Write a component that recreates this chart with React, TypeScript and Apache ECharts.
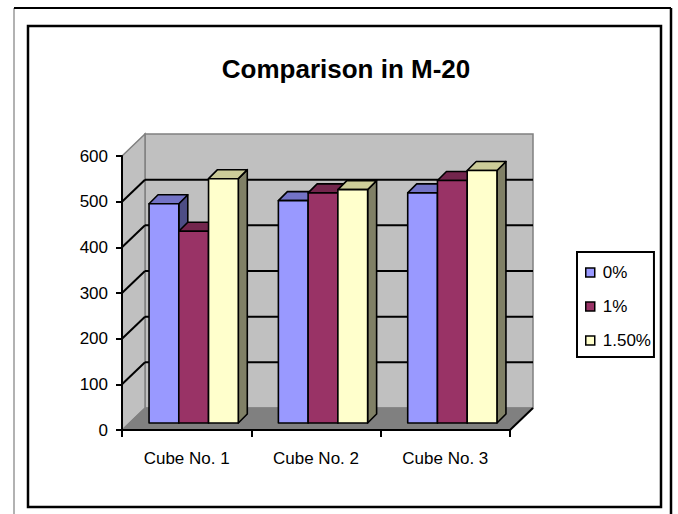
import React, { useEffect, useRef } from "react";
import * as echarts from "echarts";

// Compressive strength of cubes, M-20 mix, by admixture dosage
const CATEGORIES = ["Cube No. 1", "Cube No. 2", "Cube No. 3"];
const SERIES_NAMES = ["0%", "1%", "1.50%"];
const VALUES_0 = [480, 487, 504];
const VALUES_1 = [420, 504, 531];
const VALUES_150 = [535, 511, 553];
const Y_MIN = 0;
const Y_MAX = 600;
const Y_STEP = 100;

const FONT = "'Liberation Sans', Arial, sans-serif";

// 3D look: wall depth and bar depth in pixels
const WALL_DX = 23;
const WALL_DY = -22;
const BAR_SHIFT = 7;
const BAR_DX = 9;
const BAR_DY = -9;
const BAR_FRAC = 0.23;

const FACES = [
  { front: "#9999FF", top: "#7373C6", side: "#4D4D85" },
  { front: "#993366", top: "#73264D", side: "#4D1A33" },
  { front: "#FFFFCC", top: "#CCCC99", side: "#808066" },
];

function wallsRender(params: any, api: any) {
  const cs = params.coordSys;
  const x0 = cs.x;
  const x1 = cs.x + cs.width;
  const yBase = api.coord([0, Y_MIN])[1];
  const yTop = api.coord([0, Y_MAX])[1];
  const children: any[] = [];
  // back wall
  children.push({
    type: "rect",
    shape: { x: x0 + WALL_DX, y: yTop + WALL_DY, width: cs.width, height: yBase - yTop },
    style: { fill: "#C0C0C0", stroke: "#808080", lineWidth: 1.5 },
  });
  // side wall
  children.push({
    type: "polygon",
    shape: {
      points: [
        [x0, yBase],
        [x0, yTop],
        [x0 + WALL_DX, yTop + WALL_DY],
        [x0 + WALL_DX, yBase + WALL_DY],
      ],
    },
    style: { fill: "#C0C0C0", stroke: "#808080", lineWidth: 1.5 },
  });
  // floor
  children.push({
    type: "polygon",
    shape: {
      points: [
        [x0, yBase],
        [x1, yBase],
        [x1 + WALL_DX, yBase + WALL_DY],
        [x0 + WALL_DX, yBase + WALL_DY],
      ],
    },
    style: { fill: "#808080", stroke: "#808080", lineWidth: 1 },
  });
  children.push({
    type: "line",
    shape: { x1: x1, y1: yBase, x2: x1 + WALL_DX, y2: yBase + WALL_DY },
    style: { stroke: "#000", lineWidth: 2 },
  });
  // gridlines on back and side walls
  for (let v = Y_MIN + Y_STEP; v < Y_MAX; v += Y_STEP) {
    const y = api.coord([0, v])[1];
    children.push({
      type: "line",
      shape: { x1: x0 + WALL_DX, y1: y + WALL_DY, x2: x1 + WALL_DX, y2: y + WALL_DY },
      style: { stroke: "#000", lineWidth: 2 },
    });
    children.push({
      type: "line",
      shape: { x1: x0, y1: y, x2: x0 + WALL_DX, y2: y + WALL_DY },
      style: { stroke: "#000", lineWidth: 2 },
    });
  }
  return { type: "group", children };
}

function makeBarRender(slot: number) {
  const faces = FACES[slot];
  return function (params: any, api: any) {
    const ci = api.value(0);
    const v = api.value(1);
    const base = api.coord([ci, Y_MIN]);
    const top = api.coord([ci, v]);
    const band = api.size([1, 0])[0];
    const bw = band * BAR_FRAC;
    const left = base[0] - 1.5 * bw + slot * bw + BAR_SHIFT;
    const yb = base[1] - BAR_SHIFT;
    const yt = top[1] - BAR_SHIFT;
    const stroke = { stroke: "#000", lineWidth: 1.6, lineJoin: "round" };
    return {
      type: "group",
      children: [
        {
          type: "polygon",
          shape: {
            points: [
              [left + bw, yt],
              [left + bw + BAR_DX, yt + BAR_DY],
              [left + bw + BAR_DX, yb + BAR_DY],
              [left + bw, yb],
            ],
          },
          style: { fill: faces.side, ...stroke },
        },
        {
          type: "polygon",
          shape: {
            points: [
              [left, yt],
              [left + bw, yt],
              [left + bw + BAR_DX, yt + BAR_DY],
              [left + BAR_DX, yt + BAR_DY],
            ],
          },
          style: { fill: faces.top, ...stroke },
        },
        {
          type: "rect",
          shape: { x: left, y: yt, width: bw, height: yb - yt },
          style: { fill: faces.front, ...stroke },
        },
      ],
    };
  };
}

export default function App() {
  const ref = useRef<HTMLDivElement>(null);

  useEffect(() => {
    if (!ref.current) return;
    const chart = echarts.init(ref.current, null, { renderer: "svg" });
    const seriesValues = [VALUES_0, VALUES_1, VALUES_150];

    chart.setOption({
      animation: false,
      backgroundColor: "#fff",
      textStyle: { fontFamily: FONT },
      graphic: [
        {
          type: "line",
          shape: { x1: 14, y1: 8, x2: 14, y2: 514 },
          style: { stroke: "#999", lineWidth: 1.5 },
        },
        {
          type: "line",
          shape: { x1: 14, y1: 8, x2: 671, y2: 8 },
          style: { stroke: "#000", lineWidth: 2 },
        },
        {
          type: "line",
          shape: { x1: 671, y1: 8, x2: 671, y2: 514 },
          style: { stroke: "#000", lineWidth: 2.5 },
        },
        {
          type: "rect",
          shape: { x: 28, y: 26, width: 633, height: 481 },
          style: { fill: "none", stroke: "#000", lineWidth: 2.5 },
        },
        {
          type: "text",
          x: 346,
          y: 69,
          style: {
            text: "Comparison in M-20",
            fontFamily: FONT,
            fontWeight: "bold",
            fontSize: 26,
            fill: "#000",
            textAlign: "center",
            textVerticalAlign: "middle",
          },
        },
      ],
      legend: {
        data: SERIES_NAMES,
        orient: "vertical",
        left: 577,
        top: 252,
        padding: [12, 3, 8, 8],
        itemGap: 17,
        itemWidth: 9,
        itemHeight: 9,
        icon: "rect",
        borderColor: "#000",
        borderWidth: 2,
        backgroundColor: "#fff",
        itemStyle: { borderColor: "#000", borderWidth: 1.5 },
        textStyle: {
          fontFamily: FONT,
          fontSize: 17,
          lineHeight: 17,
          color: "#000",
          padding: [0, 0, 0, 3],
        },
      },
      grid: { left: 122, top: 156, width: 388, height: 274, containLabel: false },
      xAxis: {
        type: "category",
        data: CATEGORIES,
        z: 5,
        axisLine: { show: true, lineStyle: { color: "#000", width: 2 } },
        axisTick: { show: true, length: 7, lineStyle: { color: "#000", width: 2 } },
        axisLabel: { color: "#000", fontSize: 17, fontFamily: FONT, margin: 20 },
        splitLine: { show: false },
      },
      yAxis: {
        type: "value",
        min: Y_MIN,
        max: Y_MAX,
        interval: Y_STEP,
        z: 5,
        axisLine: { show: true, lineStyle: { color: "#000", width: 2 } },
        axisTick: { show: true, length: 6, lineStyle: { color: "#000", width: 2 } },
        axisLabel: { color: "#000", fontSize: 17, fontFamily: FONT, margin: 14 },
        splitLine: { show: false },
      },
      series: [
        {
          type: "custom",
          name: "walls",
          z: 1,
          clip: false,
          silent: true,
          renderItem: wallsRender,
          data: [[0, 0]],
          encode: { x: 0, y: 1 },
        },
        ...SERIES_NAMES.map((name, s) => ({
          type: "custom",
          name,
          z: 2,
          clip: false,
          color: FACES[s].front,
          itemStyle: { color: FACES[s].front },
          renderItem: makeBarRender(s),
          data: seriesValues[s].map((v, i) => [i, v]),
          encode: { x: 0, y: 1 },
        })),
      ],
    });

    return () => chart.dispose();
  }, []);

  return (
    <div
      ref={ref}
      style={{ position: "absolute", left: 0, top: 0, width: 678, height: 514 }}
    />
  );
}
